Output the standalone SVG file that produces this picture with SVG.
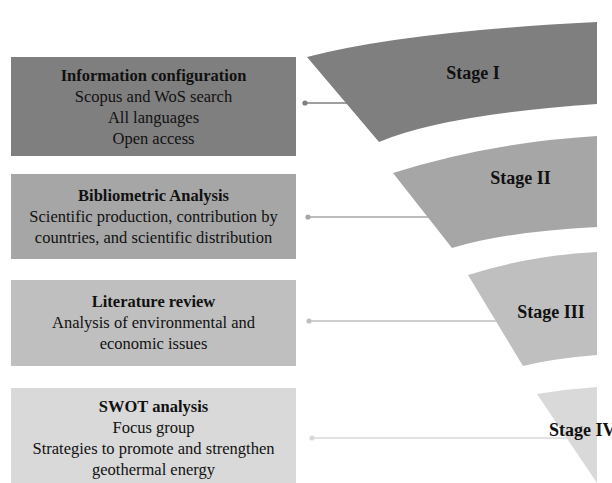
<svg xmlns="http://www.w3.org/2000/svg" width="612" height="483" viewBox="0 0 612 483">
<style>
  .t { font-family: "Liberation Serif", "Times New Roman", serif; font-size: 16.5px; fill: #111; text-anchor: middle; }
  .b { font-weight: bold; }
  .s { font-family: "Liberation Serif", "Times New Roman", serif; font-size: 18px; font-weight: bold; fill: #111; }
  .c1 { fill: #7f7f7f; } .c2 { fill: #a6a6a6; } .c3 { fill: #bfbfbf; } .c4 { fill: #d9d9d9; }
  .l { stroke-width: 1.5; fill: none; }
</style>
<rect width="612" height="483" fill="#ffffff"/>
<g id="connectors">
  <line class="l" x1="305" y1="103" x2="360" y2="103" stroke="#7f7f7f"/>
  <circle cx="305" cy="103" r="2.6" fill="#7f7f7f"/>
  <line class="l" x1="308" y1="217" x2="440" y2="217" stroke="#a6a6a6"/>
  <circle cx="308" cy="217" r="2.6" fill="#a6a6a6"/>
  <line class="l" x1="309" y1="321" x2="505" y2="321" stroke="#bfbfbf"/>
  <circle cx="309" cy="321" r="2.6" fill="#bfbfbf"/>
  <line class="l" x1="312" y1="438" x2="575" y2="438" stroke="#d9d9d9"/>
  <circle cx="312" cy="438" r="2.6" fill="#d9d9d9"/>
</g>
<g id="box1">
  <rect class="c1" x="11" y="57" width="285" height="99"/>
  <text class="t b" x="153.5" y="81">Information configuration</text>
  <text class="t" x="153.5" y="102">Scopus and WoS search</text>
  <text class="t" x="153.5" y="123">All languages</text>
  <text class="t" x="153.5" y="144">Open access</text>
</g>
<g id="box2">
  <rect class="c2" x="11" y="174" width="285" height="85"/>
  <text class="t b" x="153.5" y="201">Bibliometric Analysis</text>
  <text class="t" x="153.5" y="222">Scientific production, contribution by</text>
  <text class="t" x="153.5" y="243">countries, and scientific distribution</text>
</g>
<g id="box3">
  <rect class="c3" x="11" y="280" width="285" height="86"/>
  <text class="t b" x="153.5" y="307">Literature review</text>
  <text class="t" x="153.5" y="328">Analysis of environmental and</text>
  <text class="t" x="153.5" y="349">economic issues</text>
</g>
<g id="box4">
  <rect class="c4" x="11" y="388" width="285" height="100"/>
  <text class="t b" x="153.5" y="412">SWOT analysis</text>
  <text class="t" x="153.5" y="433">Focus group</text>
  <text class="t" x="153.5" y="454">Strategies to promote and strengthen</text>
  <text class="t" x="153.5" y="475">geothermal energy</text>
</g>
<g id="stage1">
  <path class="c1" d="M307,57 Q404.5,31.6 597,22 L597,104 Q444,114.7 379,142 Z"/>
  <text class="s" x="473" y="79" text-anchor="middle">Stage I</text>
</g>
<g id="stage2">
  <path class="c2" d="M393,173 Q488.2,142.5 597,136 L597,227 Q507,231.5 452,248 Z"/>
  <text class="s" x="520.5" y="184" text-anchor="middle">Stage II</text>
</g>
<g id="stage3">
  <path class="c3" d="M468,275 Q529.3,255.4 597,252 L597,355 Q552.9,358.5 523,366 Z"/>
  <text class="s" x="551" y="318" text-anchor="middle">Stage III</text>
</g>
<g id="stage4">
  <path class="c4" d="M537,394 Q567,389 597,387 L597,483 Z"/>
  <text class="s" x="549" y="436">Stage IV</text>
</g>
</svg>
